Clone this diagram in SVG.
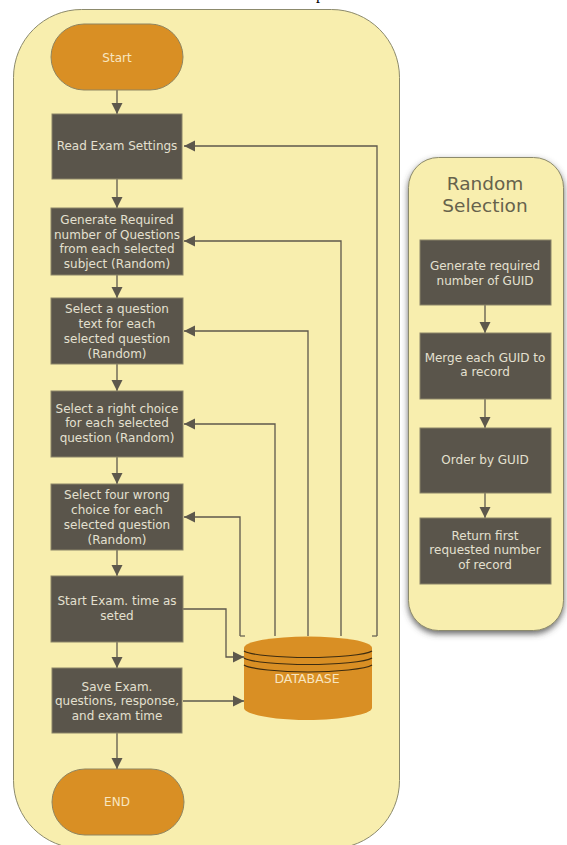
<svg xmlns="http://www.w3.org/2000/svg" width="567" height="845" viewBox="0 0 567 845">
<defs>
<marker id="a" markerUnits="userSpaceOnUse" markerWidth="12" markerHeight="12" refX="11" refY="6" orient="auto"><path d="M0,0.5 L11,6 L0,11.5 Z" fill="#5d584c"/></marker>
<filter id="s" x="-20%" y="-10%" width="140%" height="120%"><feDropShadow dx="0" dy="3" stdDeviation="3" flood-color="#444" flood-opacity="0.8"/></filter>
</defs>
<style>
text{font-family:"DejaVu Sans",Verdana,sans-serif;text-anchor:middle}
.box{fill:#5a554b;stroke:#8a8468;stroke-width:1}
.term{fill:#d98f24;stroke:#8f8560;stroke-width:1}
.t{fill:#e4e0d0;font-size:12px}
.o{fill:#f8e6c0;font-size:12px}
.panel{fill:#f8eeae;stroke:#8c8a6c;stroke-width:1}
.c{fill:none;stroke:#5d584c;stroke-width:1.3;marker-end:url(#a)}
.l{fill:none;stroke:#6a6554;stroke-width:1.3}
</style>
<rect width="567" height="845" fill="#fff"/>
<text x="320" y="-1" style="font-family:'Liberation Serif',serif;font-size:16px;fill:#000">p</text>
<g id="panel-main"><rect class="panel" x="13.500" y="9.500" width="386" height="839" rx="68" ry="68"/></g>
<g id="panel-random"><rect class="panel" x="408.500" y="157.500" width="155" height="473" rx="30" ry="30" filter="url(#s)"/>
<text x="485" y="190" style="font-size:18.500px;fill:#66624c">Random</text><text x="485" y="212" style="font-size:18.500px;fill:#66624c">Selection</text></g>
<g id="connectors">
<path class="c" d="M117 90V114"/>
<path class="c" d="M117 179V208"/>
<path class="c" d="M117 275V298"/>
<path class="c" d="M117 364V391"/>
<path class="c" d="M117 457V484"/>
<path class="c" d="M117 550V576"/>
<path class="c" d="M117 642V668"/>
<path class="c" d="M117 733V769"/>
<path class="c" d="M183 609H226V657H244"/>
<path class="c" d="M183 701H244"/>
<path class="c" d="M377 636V146H184"/>
<path class="c" d="M341 636V241H184"/>
<path class="c" d="M308 636V331H184"/>
<path class="c" d="M275 636V424H184"/>
<path class="c" d="M240 636V517H184"/>
<path class="l" d="M240 636H245"/>
<path class="l" d="M377 636H372"/>
<path class="c" d="M485 305V333"/>
<path class="c" d="M485 399V428"/>
<path class="c" d="M485 493V518"/>
</g>
<g id="start"><rect class="term" x="51" y="24" width="132" height="66" rx="33"/><text class="o" x="117" y="61.500">Start</text></g>
<g id="read"><rect class="box" x="52" y="114" width="130" height="65"/><text class="t" x="117" y="150">Read Exam Settings</text></g>
<g id="gen"><rect class="box" x="51" y="208" width="132" height="67"/><text class="t" x="117" y="224">Generate Required</text><text class="t" x="117" y="239">number of Questions</text><text class="t" x="117" y="253">from each selected</text><text class="t" x="117" y="268">subject (Random)</text></g>
<g id="text"><rect class="box" x="51" y="298" width="132" height="66"/><text class="t" x="117" y="313">Select a question</text><text class="t" x="117" y="328">text for each</text><text class="t" x="117" y="343">selected question</text><text class="t" x="117" y="358">(Random)</text></g>
<g id="right"><rect class="box" x="51" y="391" width="132" height="66"/><text class="t" x="117" y="413">Select a right choice</text><text class="t" x="117" y="427">for each selected</text><text class="t" x="117" y="442">question (Random)</text></g>
<g id="wrong"><rect class="box" x="51" y="484" width="132" height="66"/><text class="t" x="117" y="499">Select four wrong</text><text class="t" x="117" y="514">choice  for each</text><text class="t" x="117" y="529">selected question</text><text class="t" x="117" y="544">(Random)</text></g>
<g id="startexam"><rect class="box" x="51" y="576" width="132" height="66"/><text class="t" x="117" y="605">Start Exam. time as</text><text class="t" x="117" y="620">seted</text></g>
<g id="save"><rect class="box" x="52" y="668" width="130" height="65"/><text class="t" x="117" y="691">Save Exam.</text><text class="t" x="117" y="705">questions, response,</text><text class="t" x="117" y="720">and exam time</text></g>
<g id="end"><rect class="term" x="52" y="769" width="132" height="66" rx="33"/><text class="o" x="117" y="806">END</text></g>
<g id="database">
<path d="M244 648V708C244 714 272 720 307 720C342 720 372 714 372 708V648Z" fill="#d98f24"/>
<ellipse cx="308" cy="648" rx="64" ry="11.500" fill="#d98f24"/>
<path d="M244 651C250 655 280 657.500 308 657.500C336 657.500 366 655 372 651M244 658C250 662 280 664.500 308 664.500C336 664.500 366 662 372 658M244 665C250 669 280 672 308 672C336 672 366 669 372 665" fill="none" stroke="#3d2c10" stroke-width="1.200"/>
<text class="o" x="307" y="683" style="font-size:12.500px">DATABASE</text>
</g>
<g id="guid"><rect class="box" x="420" y="240" width="131" height="65"/><text class="t" x="485" y="270">Generate required</text><text class="t" x="485" y="285">number of GUID</text></g>
<g id="merge"><rect class="box" x="420" y="333" width="131" height="66"/><text class="t" x="485" y="362">Merge each GUID to</text><text class="t" x="485" y="376">a record</text></g>
<g id="order"><rect class="box" x="420" y="428" width="131" height="65"/><text class="t" x="485" y="464">Order by GUID</text></g>
<g id="return"><rect class="box" x="420" y="518" width="131" height="66"/><text class="t" x="485" y="540">Return first</text><text class="t" x="485" y="554">requested number</text><text class="t" x="485" y="569">of record</text></g>
</svg>
